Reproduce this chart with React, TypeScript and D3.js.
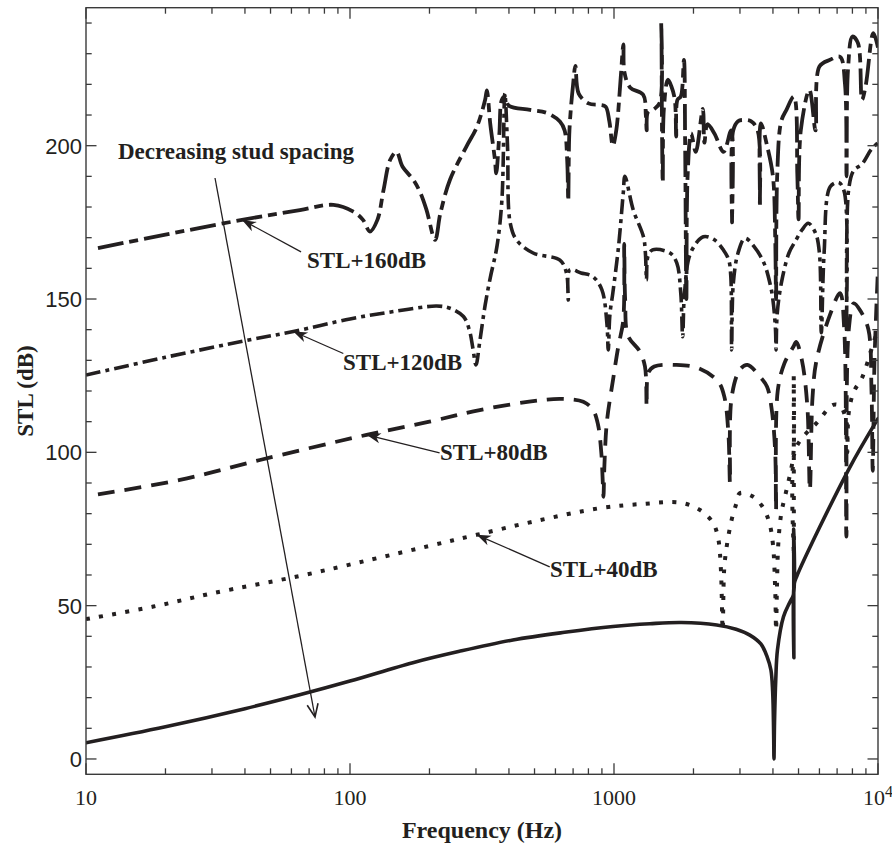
import React from "react";
import * as d3 from "d3";

type Pt = [number, number];

const W = 892;
const H = 845;

// Axis ranges and ticks
const freqDomain: [number, number] = [10, 10000];
const levelDomain: [number, number] = [-5, 245];
const yLabelTicks = [0, 50, 100, 150, 200];
const yMinorStep = 10;
const xDecades = [10, 100, 1000];

// Curves as plotted (STL plus offset), [frequency Hz, level dB]
const stlPlus0: Pt[] = [
  [10, 5.3], [20, 10.5], [40, 16.4], [65, 21.0], [100, 25.4], [173, 31.4],
  [260, 35.1], [414, 38.8], [650, 41.3], [991, 43.2], [1368, 44.1],
  [1800, 44.5], [2450, 43.7], [2900, 42.3], [3270, 40.4], [3600, 37.5], [3800, 33.4],
  [3930, 29], [3990, 22], [4025, 8], [4036, 0], [4055, 12], [4100, 26], [4160, 35.5],
  [4385, 46.4], [4645, 51.3], [4780, 53.5], [4792, 75], [4802, 33], [4815, 57],
  [4920, 59.5], [7730, 94.3], [10000, 111],
];

const stlPlus40: Pt[] = [
  [10, 45.6], [18, 49.7], [30, 54], [64.6, 59.7], [120, 65], [200, 69.5], [302, 73.1],
  [500, 77.5], [885, 81.8], [1300, 83.2], [1778, 83.6], [2118, 81.2], [2371, 77],
  [2480, 72], [2540, 62], [2580, 42], [2615, 62], [2680, 70], [2790, 78], [2900, 83],
  [3000, 86.7], [3370, 85.5], [3680, 81.8], [3880, 76.9], [4000, 70], [4080, 55],
  [4111, 42], [4140, 55], [4190, 70], [4300, 80], [4502, 87.7], [4700, 95],
  [4786, 99.7], [4795, 125], [4805, 66], [4830, 100], [5200, 105], [5849, 109.5],
  [6760, 115.5], [7200, 115], [7590, 110], [7650, 100], [7750, 113], [8100, 119.8],
  [8670, 124], [9100, 129], [9600, 135.6], [10000, 140],
];

const stlPlus80: Pt[] = [
  [11.1, 86.3], [22.7, 91], [45.6, 97.5], [115.6, 105.7], [200, 110], [310, 113.8],
  [525, 117], [644, 117.4], [765, 116.5], [833, 113.8], [870, 109], [895, 100],
  [905, 92], [912, 85.5], [920, 96], [940, 110], [993, 124], [1038, 134.5],
  [1084, 143], [1093, 168], [1102, 150], [1130, 138], [1250, 133], [1310, 128],
  [1330, 115], [1350, 126], [1420, 128], [1722, 128.5], [2100, 127.4], [2484, 123],
  [2620, 118], [2713, 106], [2750, 90], [2790, 118], [3000, 127], [3200, 128.5],
  [3570, 124.7], [3800, 121.4], [3960, 113.8], [4080, 100], [4110, 81.2], [4170, 120],
  [4420, 129], [4786, 134.5], [4900, 136], [5150, 130], [5400, 115], [5520, 87.7],
  [5650, 118], [5849, 130], [6577, 144.8], [7180, 151.9], [7450, 140], [7590, 72.5],
  [7750, 140], [8100, 148.6], [8600, 146], [9200, 140], [9450, 120], [9550, 94],
  [9700, 130], [10000, 160],
];

const stlPlus120: Pt[] = [
  [10, 125.2], [20, 131], [41.8, 136.7], [61, 139.4], [100, 143.5], [146, 145.9],
  [213, 147.7], [239, 147], [269, 144.3], [283, 140], [292, 134], [300, 128.5],
  [310, 136], [325, 148], [340, 157], [360, 167], [376, 182], [386, 217], [395, 200],
  [404, 175], [427, 169.3], [494, 165], [624, 162.7], [661, 158.4], [671, 149.7],
  [680, 159.5], [750, 158.5], [832, 157.3], [900, 153], [940, 142], [951, 133.4],
  [965, 145], [990, 152], [1040, 167], [1084, 184.5], [1100, 190], [1183, 179],
  [1293, 170.3], [1315, 165], [1328, 156.2], [1345, 164], [1400, 166], [1630, 165],
  [1730, 161.7], [1790, 152], [1820, 137.7], [1850, 152], [1950, 165], [2179, 170.3],
  [2400, 169.3], [2596, 166], [2720, 162.7], [2770, 157.3], [2790, 133.4], [2830, 155],
  [2950, 165], [3133, 169.8], [3400, 167], [3700, 161.7], [3900, 155], [4000, 149.7],
  [4090, 140], [4110, 133.4], [4150, 145], [4300, 155], [4600, 165], [4898, 169.3],
  [5150, 172.5], [5445, 174.7], [5800, 171.5], [6000, 165], [6100, 139], [6250, 165],
  [6600, 186.7], [7100, 188], [7450, 185], [7600, 139], [7750, 186], [8100, 192],
  [8700, 194], [9400, 198.6], [10000, 201],
];

const stlPlus160: Pt[] = [
  [11.1, 166.6], [20, 171], [39, 175.8], [64.6, 179], [86.5, 180.7], [103, 178.5],
  [112, 175.8], [119, 172], [127, 175.8], [134, 185.6], [142, 195.4], [150, 198],
  [158, 193.2], [174, 188.8], [185, 184.5], [195, 179], [210, 169.3], [220, 178],
  [239, 188.8], [276, 199.7], [302, 206], [325, 215], [330, 218], [340, 207],
  [354, 195.4], [358, 191], [368, 204], [376, 215], [386, 216], [400, 213],
  [481, 211.7], [560, 210.6], [624, 207.9], [650, 205], [665, 195], [671, 182],
  [678, 205], [700, 220], [714, 226], [735, 217], [800, 213.8], [885, 213.3],
  [930, 212.7], [960, 208], [990, 200], [1020, 205], [1060, 222], [1085, 233],
  [1095, 224], [1150, 219], [1290, 216.6], [1320, 210], [1330, 205], [1345, 211],
  [1420, 212], [1490, 214], [1510, 240], [1520, 205], [1530, 188], [1545, 212],
  [1600, 221.5], [1650, 219.3], [1700, 215], [1720, 203], [1740, 215], [1790, 216],
  [1840, 228], [1860, 200], [1880, 150], [1900, 190], [1960, 204], [2040, 198],
  [2170, 212], [2200, 201], [2260, 207], [2400, 204], [2600, 198], [2780, 205],
  [2800, 175], [2830, 205], [2950, 208], [3100, 208.4], [3300, 208], [3500, 205],
  [3570, 180], [3600, 207.3], [3800, 200], [4000, 190], [4080, 170], [4110, 150],
  [4150, 190], [4300, 208], [4500, 211.7], [4800, 216], [4950, 190], [5000, 176],
  [5100, 205], [5500, 218.2], [5800, 205], [6000, 225.8], [6580, 228], [7180, 229],
  [7500, 220], [7600, 190], [7700, 225], [8000, 235.6], [8400, 233.4], [8700, 215],
  [9000, 220], [9600, 236.7], [10000, 232],
];

const curveLabels = ["STL+160dB", "STL+120dB", "STL+80dB", "STL+40dB"];
const trendLabel = "Decreasing stud spacing";

const INK = "#231f20";

export default function App() {
  const left = 86;
  const right = 878;
  const top = 7.7;
  const bottom = 774.3;

  const x = d3.scaleLog().domain(freqDomain).range([left, right]);
  const y = d3.scaleLinear().domain(levelDomain).range([bottom, top]);

  const line = d3
    .line<Pt>()
    .x((d) => x(d[0]))
    .y((d) => y(d[1]))
    .curve(d3.curveCatmullRom.alpha(0.5));

  const series = [
    { data: stlPlus0, dash: undefined as string | undefined, width: 3.6, cap: "round" },
    { data: stlPlus40, dash: "4 9.3", width: 4, cap: "butt" },
    { data: stlPlus80, dash: "17 10", width: 3.8, cap: "butt" },
    { data: stlPlus120, dash: "15 5 4 5", width: 3.6, cap: "butt" },
    { data: stlPlus160, dash: "26 6 9 6", width: 3.8, cap: "butt" },
  ];

  // minor and major ticks
  const yTicks = d3.range(0, 241, yMinorStep);
  const xTicks: { f: number; major: boolean }[] = [];
  xDecades.forEach((dec) => {
    for (let k = 1; k <= 9; k++) xTicks.push({ f: dec * k, major: k === 1 });
  });
  xTicks.push({ f: 10000, major: true });

  // label arrows run from the text to a point on their curve
  const labelArrows = [
    { tail: [x(39) + 59, y(175.8) + 32], tip: [x(39), y(175.8)], text: curveLabels[0], tx: 307, ty: 268 },
    { tail: [x(61) + 50, y(139.4) + 22], tip: [x(61), y(139.4)], text: curveLabels[1], tx: 343, ty: 370 },
    { tail: [x(115.6) + 73, y(105.7) + 18], tip: [x(115.6), y(105.7)], text: curveLabels[2], tx: 440, ty: 460 },
    { tail: [x(302) + 73, y(73.1) + 32], tip: [x(302), y(73.1)], text: curveLabels[3], tx: 550, ty: 577 },
  ];

  const filledHead = (tail: number[], tip: number[], L = 14, w = 5.2) => {
    const dx = tip[0] - tail[0];
    const dy = tip[1] - tail[1];
    const len = Math.hypot(dx, dy);
    const ux = dx / len;
    const uy = dy / len;
    const nx = -uy;
    const ny = ux;
    const bx = tip[0] - ux * L;
    const by = tip[1] - uy * L;
    const pts = [
      [tip[0], tip[1]],
      [bx + nx * w, by + ny * w],
      [tip[0] - ux * (L - 4), tip[1] - uy * (L - 4)],
      [bx - nx * w, by - ny * w],
    ];
    return pts.map((p) => p.join(",")).join(" ");
  };

  const trendStart = [215, 178];
  const trendTip = [315, 717];
  const tdx = trendTip[0] - trendStart[0];
  const tdy = trendTip[1] - trendStart[1];
  const tlen = Math.hypot(tdx, tdy);
  const tux = tdx / tlen;
  const tuy = tdy / tlen;
  const barb = (s: number) => [
    trendTip[0] - tux * 13 + -tuy * 5.5 * s,
    trendTip[1] - tuy * 13 + tux * 5.5 * s,
  ];

  const serif = "'Liberation Serif', 'Times New Roman', serif";
  const sans = "'Liberation Sans', Arial, sans-serif";

  return (
    <svg
      width={W}
      height={H}
      viewBox={`0 0 ${W} ${H}`}
      style={{ position: "absolute", left: 0, top: 0, background: "#fff" }}
    >
      <rect x={0} y={0} width={W} height={H} fill="#fff" />
      <defs>
        <clipPath id="plot-area">
          <rect x={left} y={top} width={right - left} height={bottom - top} />
        </clipPath>
      </defs>

      <g clipPath="url(#plot-area)">
        {series.map((s, i) => (
          <path
            key={i}
            d={line(s.data) || ""}
            fill="none"
            stroke={INK}
            strokeWidth={s.width}
            strokeDasharray={s.dash}
            strokeLinecap={s.cap as any}
            strokeLinejoin="round"
          />
        ))}
      </g>

      {/* frame */}
      <rect x={left} y={top} width={right - left} height={bottom - top} fill="none" stroke="#3a3a3a" strokeWidth={1.4} />

      {/* y ticks, both sides */}
      {yTicks.map((v) => {
        const major = v % 50 === 0;
        const len = major ? 10.5 : 5.7;
        return (
          <g key={`y${v}`} stroke="#3a3a3a" strokeWidth={1.3}>
            <line x1={left} x2={left + len} y1={y(v)} y2={y(v)} />
            <line x1={right} x2={right - len} y1={y(v)} y2={y(v)} />
          </g>
        );
      })}
      {yLabelTicks.map((v) => (
        <text
          key={`yl${v}`}
          x={82}
          y={y(v)}
          dy="0.36em"
          textAnchor="end"
          fontFamily={sans}
          fontSize={22}
          fill={INK}
        >
          {v}
        </text>
      ))}

      {/* x ticks, both sides */}
      {xTicks.map((t) => {
        const len = t.major ? 11 : 6;
        return (
          <g key={`x${t.f}`} stroke="#3a3a3a" strokeWidth={1.3}>
            <line x1={x(t.f)} x2={x(t.f)} y1={bottom} y2={bottom - len} />
            <line x1={x(t.f)} x2={x(t.f)} y1={top} y2={top + len} />
          </g>
        );
      })}
      {xDecades.map((f) => (
        <text key={`xl${f}`} x={x(f)} y={805} textAnchor="middle" fontFamily={serif} fontSize={22} fill={INK}>
          {f}
        </text>
      ))}
      <text x={x(10000) - 15} y={805} fontFamily={serif} fontSize={22} fill={INK}>
        10
        <tspan dy={-8} fontSize={16}>
          4
        </tspan>
      </text>

      {/* axis titles */}
      <text
        x={(left + right) / 2}
        y={838}
        textAnchor="middle"
        fontFamily={serif}
        fontWeight="bold"
        fontSize={24}
        fill={INK}
      >
        Frequency (Hz)
      </text>
      <text
        transform={`translate(33, ${(top + bottom) / 2}) rotate(-90)`}
        textAnchor="middle"
        fontFamily={serif}
        fontWeight="bold"
        fontSize={23}
        fill={INK}
      >
        STL (dB)
      </text>

      {/* trend annotation */}
      <text x={118} y={159} fontFamily={serif} fontWeight="bold" fontSize={23} fill={INK}>
        {trendLabel}
      </text>
      <line x1={trendStart[0]} y1={trendStart[1]} x2={trendTip[0]} y2={trendTip[1]} stroke={INK} strokeWidth={1.3} />
      <polyline
        points={`${barb(1).join(",")} ${trendTip.join(",")} ${barb(-1).join(",")}`}
        fill="none"
        stroke={INK}
        strokeWidth={1.6}
      />

      {/* curve labels with arrows */}
      {labelArrows.map((a, i) => (
        <g key={`la${i}`}>
          <line x1={a.tail[0]} y1={a.tail[1]} x2={a.tip[0]} y2={a.tip[1]} stroke={INK} strokeWidth={1.3} />
          <polygon points={filledHead(a.tail, a.tip)} fill={INK} />
          <text x={a.tx} y={a.ty} fontFamily={serif} fontWeight="bold" fontSize={23} fill={INK}>
            {a.text}
          </text>
        </g>
      ))}
    </svg>
  );
}
